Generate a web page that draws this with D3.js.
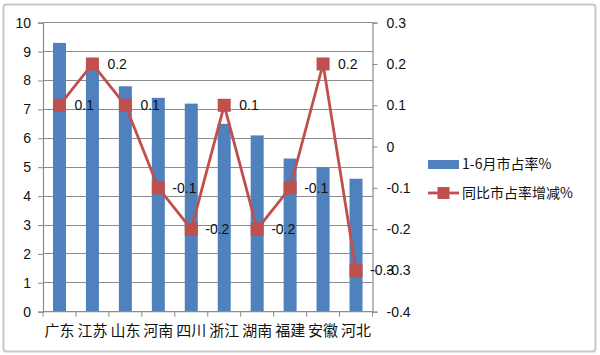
<!DOCTYPE html>
<html><head><meta charset="utf-8">
<script src="https://cdn.jsdelivr.net/npm/d3@7"></script>
<style>body{margin:0;background:#fff}svg{display:block}</style>
</head><body>
<script>
const categories = ["广东","江苏","山东","河南","四川","浙江","湖南","福建","安徽","河北"];
const shareValues = [9.3, 8.5, 7.8, 7.4, 7.2, 6.5, 6.1, 5.3, 5.0, 4.6];
const changeValues = [0.1, 0.2, 0.1, -0.1, -0.2, 0.1, -0.2, -0.1, 0.2, -0.3];
const leftTicks = [0,1,2,3,4,5,6,7,8,9,10];
const rightTicks = [-0.4,-0.3,-0.2,-0.1,0,0.1,0.2,0.3];
const seriesNames = ["1-6月市占率%","同比市占率增减%"];

const W=600,H=355;
const svg=d3.select("body").append("svg").attr("width",W).attr("height",H);
const font="'Liberation Sans','DejaVu Sans',sans-serif";
const cjk="'Noto Sans CJK SC',sans-serif";
const fmt1=d=>d===0?"0":d3.format(".1f")(d).replace("\u2212","-");

svg.append("rect").attr("x",3.5).attr("y",4.5).attr("width",592).attr("height",347)
  .attr("rx",3).attr("fill","#fff").attr("stroke","#c8c8c8").attr("stroke-width",2);

const L=43,R=372.5,T=22.7,B=311.7;
const xb=d3.scaleBand().domain(categories).range([L,R]);
const yL=d3.scaleLinear().domain([0,10]).range([B,T]);
const yR=d3.scaleLinear().domain([-0.4,0.3]).range([B,T]);

// gridlines
svg.append("g").selectAll("line").data(leftTicks.filter(d=>d>0)).join("line")
  .attr("x1",L).attr("x2",R).attr("y1",d=>yL(d)).attr("y2",d=>yL(d))
  .attr("stroke","#8c8c8c").attr("stroke-width",1).attr("shape-rendering","crispEdges");

// bars
svg.append("g").selectAll("rect").data(shareValues).join("rect")
  .attr("x",(d,i)=>xb(categories[i])+xb.bandwidth()/2-6.5).attr("width",13)
  .attr("y",d=>yL(d)).attr("height",d=>B-yL(d)).attr("fill","#4F81BD");

// axes
const gL=svg.append("g").attr("transform",`translate(${L},0)`)
  .call(d3.axisLeft(yL).tickValues(leftTicks).tickSize(5).tickPadding(7).tickFormat(d3.format("d")));
const gR=svg.append("g").attr("transform",`translate(${R},0)`)
  .call(d3.axisRight(yR).tickValues(rightTicks).tickSize(5).tickPadding(9).tickFormat(fmt1));
const gB=svg.append("g").attr("transform",`translate(0,${B})`)
  .call(d3.axisBottom(xb).tickSize(0).tickPadding(14));
[gL,gR,gB].forEach(g=>{
  g.select(".domain").attr("stroke","#8c8c8c").attr("stroke-width",1.2);
  g.selectAll(".tick line").attr("stroke","#8c8c8c");
  g.selectAll("text").attr("fill","#111");
});
gL.selectAll("text").style("font-family",font).style("font-size","14px");
gR.selectAll("text").style("font-family",font).style("font-size","14px");
gB.selectAll("text").style("font-family",cjk).style("font-size","15px").attr("dy","0.71em");
gB.select(".domain").attr("d",`M${L},0H${R}`);
// category separators
svg.append("g").selectAll("line").data(d3.range(categories.length+1)).join("line")
  .attr("x1",i=>L+i*xb.step()).attr("x2",i=>L+i*xb.step()).attr("y1",B).attr("y2",B+5)
  .attr("stroke","#8c8c8c");

// line series
const cx=i=>xb(categories[i])+xb.bandwidth()/2;
svg.append("path").datum(changeValues)
  .attr("d",d3.line().x((d,i)=>cx(i)).y(d=>yR(d)))
  .attr("fill","none").attr("stroke","#C0504D").attr("stroke-width",2.8);
svg.append("g").selectAll("rect").data(changeValues).join("rect")
  .attr("x",(d,i)=>cx(i)-6.5).attr("y",d=>yR(d)-6.5).attr("width",13).attr("height",13)
  .attr("fill","#C0504D");
svg.append("g").selectAll("text").data(changeValues).join("text")
  .attr("x",(d,i)=>cx(i)+(d<0?14:15)).attr("y",d=>yR(d)).attr("dy","0.35em")
  .style("font-family",font).style("font-size","14px").attr("fill","#111")
  .text(fmt1);

// legend
const lg=svg.append("g");
lg.append("rect").attr("x",428).attr("y",160).attr("width",31).attr("height",9).attr("fill","#4F81BD");
lg.append("text").attr("x",462).attr("y",164.5).attr("dy","0.35em").style("font-family",cjk).style("font-size","14px").attr("fill","#111").text(seriesNames[0]);
lg.append("line").attr("x1",428).attr("x2",459).attr("y1",193).attr("y2",193).attr("stroke","#C0504D").attr("stroke-width",2.8);
lg.append("rect").attr("x",437.5).attr("y",187).attr("width",12).attr("height",12).attr("fill","#C0504D");
lg.append("text").attr("x",462).attr("y",193).attr("dy","0.35em").style("font-family",cjk).style("font-size","14px").attr("fill","#111").text(seriesNames[1]);
</script>
</body></html>
